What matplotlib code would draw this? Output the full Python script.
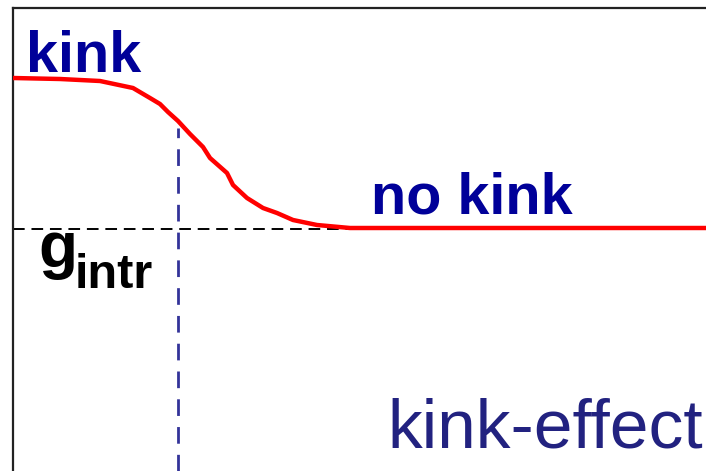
import numpy as np
import matplotlib.pyplot as plt

# --- data: gain vs. position, schematic kink curve ---
x_curve = [0, 47, 87, 120, 137, 147, 155, 165, 177, 190, 197, 214, 220,
           234, 250, 264, 280, 304, 337, 693]
g_curve = [393, 392, 390, 383, 373, 367, 359, 350, 337, 324, 313, 298, 286,
           273, 263, 258, 251, 246, 243, 243]
g_intr = 242
x_kink = 165

plt.rcParams['font.family'] = ['Liberation Sans', 'DejaVu Sans']

fig = plt.figure(figsize=(7.06, 4.71), dpi=100)
ax = fig.add_axes([13 / 706, 0, 693 / 706, 463 / 471])
ax.set_xlim(0, 693)
ax.set_ylim(0, 463)
for side in ['right', 'bottom']:
    ax.spines[side].set_visible(False)
for side in ['left', 'top']:
    ax.spines[side].set_linewidth(1.6)
    ax.spines[side].set_color('#222222')
ax.set_xticks([])
ax.set_yticks([])

# reference levels
ax.plot([0, 693], [g_intr, g_intr], color='black', lw=1.4,
        dashes=(6, 3.5), zorder=2)
ax.plot([x_kink, x_kink], [0, 343], color='#333399', lw=2.0,
        dashes=(6, 4), zorder=2)

ax.plot(x_curve, g_curve, color='red', lw=3.2, zorder=3,
        solid_capstyle='butt')

# labels
ax.text(13, 399, 'kink', color='#000099', fontsize=41.5, fontweight='bold',
        va='baseline', ha='left')
ax.text(358, 258, 'no kink', color='#000099', fontsize=41.5,
        fontweight='bold', va='baseline', ha='left')
ax.text(690, 23, 'kink-effect', color='#222280', fontsize=50,
        va='baseline', ha='right')
ax.text(25, 204, 'g', color='black', fontsize=46, fontweight='bold',
        va='baseline', ha='left')
ax.text(62, 183, 'intr', color='black', fontsize=35, fontweight='bold',
        va='baseline', ha='left')

fig.savefig('out.png', dpi=100)
